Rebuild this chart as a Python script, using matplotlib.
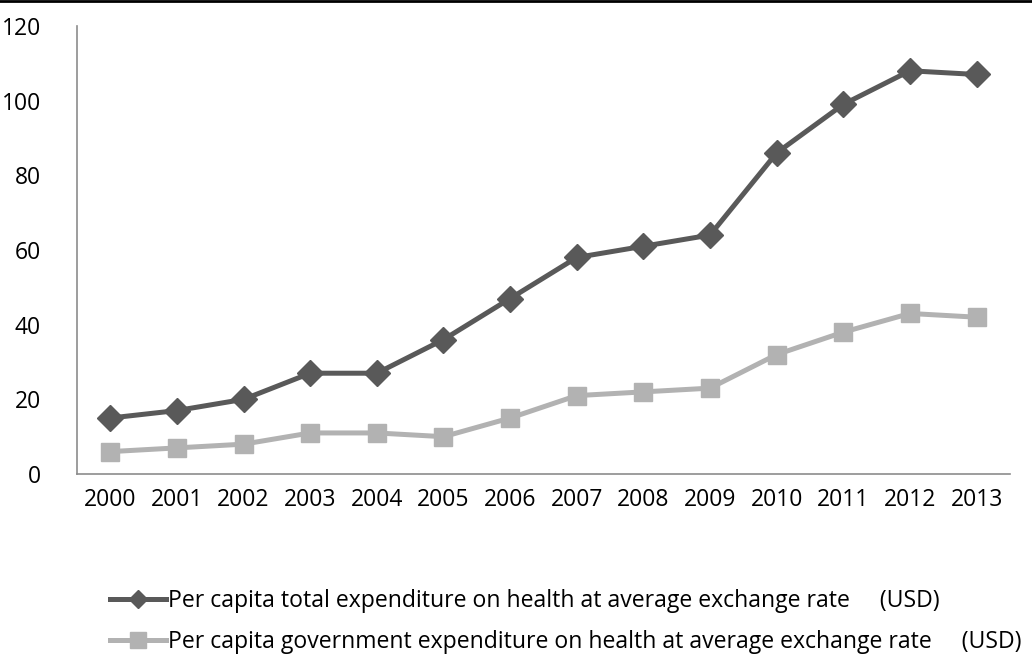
import matplotlib
matplotlib.use("Agg")
import matplotlib.pyplot as plt
from matplotlib.lines import Line2D

years = ["2000", "2001", "2002", "2003", "2004", "2005", "2006",
         "2007", "2008", "2009", "2010", "2011", "2012", "2013"]
total_exp = [15, 17, 20, 27, 27, 36, 47, 58, 61, 64, 86, 99, 108, 107]
gov_exp = [6, 7, 8, 11, 11, 10, 15, 21, 22, 23, 32, 38, 43, 42]
yticks = [0, 20, 40, 60, 80, 100, 120]

label_total = "Per capita total expenditure on health at average exchange rate     (USD)"
label_gov = "Per capita government expenditure on health at average exchange rate     (USD)"

plt.rcParams['font.family'] = ['Open Sans', 'DejaVu Sans']

fig = plt.figure(figsize=(10.32, 6.57), dpi=100)
ax = fig.add_axes([0.0746, 0.2785, 0.904, 0.682])

x = list(range(len(years)))
ax.plot(x, total_exp, color="#595959", lw=3.6, marker="D", ms=13,
        label=label_total, solid_joinstyle="round")
ax.plot(x, gov_exp, color="#b2b2b2", lw=3.6, marker="s", ms=13,
        label=label_gov, solid_joinstyle="round")

ax.set_xlim(-0.5, len(years) - 0.5)
ax.set_ylim(0, 120)
ax.set_xticks(x)
ax.set_xticklabels(years)
ax.set_yticks(yticks)
ax.tick_params(length=0, labelsize=16.5, colors="black", pad=10)
ax.tick_params(axis="y", pad=26)
for side in ["top", "right"]:
    ax.spines[side].set_visible(False)
for side in ["left", "bottom"]:
    ax.spines[side].set_color("#8c8c8c")
    ax.spines[side].set_linewidth(1.2)

# legend below the plot, one entry per row
handles = [
    Line2D([], [], color="#595959", lw=3.6, marker="D", ms=9),
    Line2D([], [], color="#b2b2b2", lw=3.6, marker="s", ms=11),
]
fig.legend(handles, [label_total, label_gov], loc="upper left",
           bbox_to_anchor=(0.098, 0.118), frameon=False, fontsize=16.6,
           handlelength=2.4, handletextpad=0.1, labelspacing=0.75,
           borderaxespad=0)

# thin black rule along the top edge
fig.add_artist(Line2D([0, 1], [0.998, 0.998], color="black", lw=2,
                      transform=fig.transFigure))

fig.savefig("out.png", dpi=100)
